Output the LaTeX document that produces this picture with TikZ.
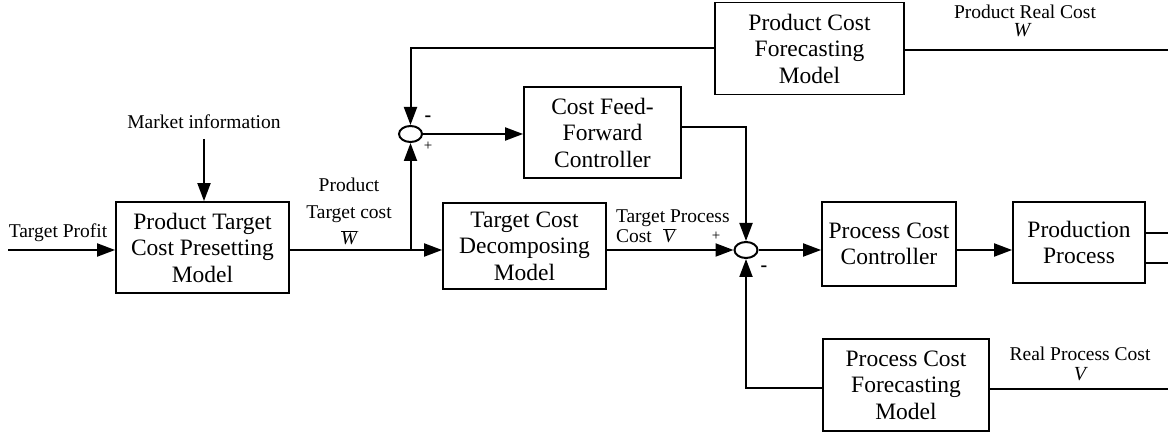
\documentclass[tikz,border=0pt]{standalone}
\usepackage{fontspec}
\setmainfont{Liberation Serif}
\usetikzlibrary{arrows.meta,shapes.geometric}
\begin{document}
\begin{tikzpicture}[x=1pt,y=-1pt,line width=2pt,
  >={Triangle[length=18pt,width=13pt]},
  box/.style={draw,line width=1.8pt,align=center,inner sep=0pt,font=\fontsize{23.5}{26.5}\selectfont},
  lbl/.style={font=\fontsize{19.5}{26.5}\selectfont,align=center,inner sep=0pt},
  var/.style={font=\fontsize{20}{22}\selectfont\itshape,inner sep=0pt},
  sml/.style={font=\fontsize{15}{16}\selectfont,inner sep=0pt},
  sgn/.style={font=\fontsize{20}{20}\selectfont\bfseries,inner sep=0pt},
  sumj/.style={draw,ellipse,minimum width=23pt,minimum height=16pt,inner sep=0pt,line width=2pt}]
\useasboundingbox (0,0) rectangle (1168,438);
% blocks
\node[box,minimum width=173pt,minimum height=91pt] (ptc) at (202.5,247.5) {Product Target\\Cost Presetting\\Model};
\node[box,minimum width=163pt,minimum height=86pt] (tcd) at (524.5,246) {Target Cost\\Decomposing\\Model};
\node[box,minimum width=157pt,minimum height=91pt] (cff) at (602.5,132.5) {Cost Feed-\\Forward\\Controller};
\node[box,minimum width=189pt,minimum height=92pt] (pcf) at (809.5,48.5) {Product Cost\\Forecasting\\Model};
\node[box,minimum width=134pt,minimum height=84pt] (pcc) at (889,244) {Process Cost\\Controller};
\node[box,minimum width=132pt,minimum height=81pt] (pp) at (1079,242.5) {Production\\Process};
\node[box,minimum width=166pt,minimum height=92pt] (rcf) at (906,385) {Process Cost\\Forecasting\\Model};
% summing junctions
\node[sumj] (s1) at (410.5,134) {};
\node[sumj] (s2) at (746,250) {};
% free ends
\coordinate (tpin) at (8,250);
\coordinate (mitop) at (204,139);
\coordinate (br) at (410.5,250);
\coordinate (o1) at (1168,233);
\coordinate (o2) at (1168,263);
\coordinate (o3) at (1168,50);
\coordinate (o4) at (1168,389);
% labels
\node[lbl,anchor=base] (ltp) at (58,238) {Target Profit};
\node[lbl,anchor=base] (lmi) at (204,129) {Market information};
\node[lbl,anchor=base] (lpt) at (349,245) {Product\\Target cost\\$\overline{\textit{W}}$};
\node[lbl,anchor=base] (lprc) at (1025,19) {Product Real Cost};
\node[var,anchor=base] (lw) at (1022,37) {W};
\node[lbl,anchor=base] (lrpc) at (1080,361) {Real Process Cost};
\node[var,anchor=base] (lv) at (1080,381) {V};
\node[lbl,anchor=base west] (ltpc) at (615,223) {Target Process};
\node[lbl,anchor=base west] (lcost) at (615,243) {Cost};
\node[lbl,anchor=base] (lvb) at (669,243) {$\overline{\textit{V}}$};
\node[sml] (p1) at (428,146) {+};
\node[sgn] (m1) at (428,119) {-};
\node[sml] (p2) at (716,236) {+};
\node[sgn] (m2) at (764,269) {-};
% connectors
\draw[->] (tpin) -- (tpin -| ptc.west);
\draw[->] (mitop) -- (mitop |- ptc.north);
\draw[->] (ptc.east |- br) -- (tcd.west |- br);
\draw[->] (br) -- (s1.south);
\draw[->] (s1.east) -- (cff.west |- s1);
\draw[->] ([yshift=5.5pt]cff.east) -| (s2.north);
\draw[->] (tcd.east |- s2) -- (s2.west);
\draw[->] (s2.east) -- (pcc.west |- s2);
\draw[->] (pcc.east |- s2) -- (pp.west |- s2);
\draw (pp.east |- o1) -- (o1);
\draw (pp.east |- o2) -- (o2);
\draw (pcf.east |- o3) -- (o3);
\draw[->] (pcf.west) -| (s1.north);
\draw (rcf.east |- o4) -- (o4);
\draw[->] ([yshift=-3pt]rcf.west) -| (s2.south);
\end{tikzpicture}
\end{document}
